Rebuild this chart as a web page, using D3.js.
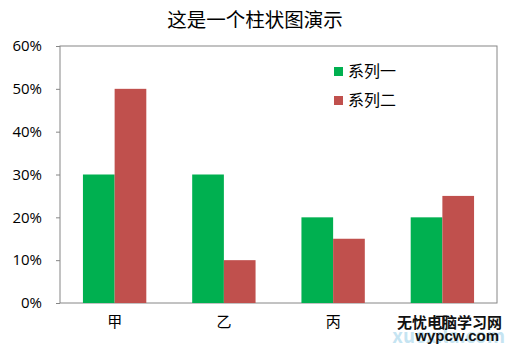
<!DOCTYPE html>
<html>
<head>
<meta charset="utf-8">
<script src="https://cdn.jsdelivr.net/npm/d3@7"></script>
<style>
  body { margin: 0; background: #fff; }
  text { font-family: "Noto Sans CJK SC", "Noto Sans", sans-serif; }
</style>
</head>
<body>
<div id="chart"></div>
<script>
var categories = ["甲", "乙", "丙", "丁"];
var seriesNames = ["系列一", "系列二"];
var series1 = [0.30, 0.30, 0.20, 0.20];
var series2 = [0.50, 0.10, 0.15, 0.25];
var yTicks = [0, 0.1, 0.2, 0.3, 0.4, 0.5, 0.6];
var colors = ["#00B050", "#C0504D"];

function init() {
    var w = 510;
    var h = 348;
    var left = 60, right = 497, top = 46, bottom = 303;

    var svg = d3.select("#chart")
                .append("svg")
                .attr("width", w)
                .attr("height", h);

    var x = d3.scaleBand()
              .domain(categories)
              .range([left, right])
              .paddingInner(0.42)
              .paddingOuter(0.21);

    var x1 = d3.scaleBand()
               .domain(seriesNames)
               .range([0, x.bandwidth()]);

    var y = d3.scaleLinear()
              .domain([0, 0.6])
              .range([bottom, top]);

    // title
    svg.append("text")
        .attr("x", 255)
        .attr("y", 27)
        .attr("text-anchor", "middle")
        .style("font-size", "19.5px")
        .style("fill", "#000")
        .text("这是一个柱状图演示");

    // plot border
    svg.append("rect")
        .attr("x", left)
        .attr("y", top)
        .attr("width", right - left)
        .attr("height", bottom - top)
        .style("fill", "none")
        .style("stroke", "#868686")
        .style("stroke-width", 1);

    // y axis
    var yAxis = d3.axisLeft(y)
                  .tickValues(yTicks)
                  .tickFormat(d3.format(".0%"))
                  .tickSize(4)
                  .tickPadding(14);
    var gy = svg.append("g")
        .attr("transform", "translate(" + left + ",0)")
        .call(yAxis);
    gy.select(".domain").remove();
    gy.selectAll(".tick line").style("stroke", "#868686");
    gy.selectAll("text")
        .style("font-size", "15px")
        .style("fill", "#000")
        .style("font-family", "'Open Sans', sans-serif");

    // bars
    var data = categories.map(function(c, i) {
        return { cat: c, values: [series1[i], series2[i]] };
    });

    var groups = svg.selectAll(".grp")
        .data(data)
        .enter()
        .append("g")
        .attr("transform", function(d) { return "translate(" + x(d.cat) + ",0)"; });

    groups.selectAll("rect")
        .data(function(d) { return d.values.map(function(v, j) { return { name: seriesNames[j], v: v, j: j }; }); })
        .enter()
        .append("rect")
        .attr("x", function(d) { return x1(d.name); })
        .attr("y", function(d) { return y(d.v); })
        .attr("width", x1.bandwidth())
        .attr("height", function(d) { return y(0) - y(d.v); })
        .style("fill", function(d) { return colors[d.j]; });

    // x labels
    var xAxis = d3.axisBottom(x).tickSize(0).tickPadding(13);
    var gx = svg.append("g")
        .attr("transform", "translate(0," + bottom + ")")
        .call(xAxis);
    gx.select(".domain").remove();
    gx.selectAll("text")
        .style("font-size", "15px")
        .style("fill", "#000");

    // legend
    var legend = svg.selectAll(".legend")
        .data(seriesNames)
        .enter()
        .append("g")
        .attr("transform", function(d, i) { return "translate(334," + (67 + i * 29) + ")"; });
    legend.append("rect")
        .attr("width", 9)
        .attr("height", 9)
        .style("fill", function(d, i) { return colors[i]; });
    legend.append("text")
        .attr("x", 14)
        .attr("y", 10)
        .style("font-size", "16px")
        .style("fill", "#000")
        .text(function(d) { return d; });

    // watermark
    svg.append("text")
        .attr("x", 505)
        .attr("y", 343)
        .attr("text-anchor", "end")
        .style("font-size", "19px")
        .style("font-weight", "bold")
        .style("fill", "#9fd3ea")
        .style("opacity", 0.6)
        .text("xuexila.com");
    svg.append("text")
        .attr("x", 502)
        .attr("y", 328)
        .attr("text-anchor", "end")
        .style("font-size", "15px")
        .style("font-weight", "bold")
        .style("fill", "#111")
        .text("无忧电脑学习网");
    svg.append("text")
        .attr("x", 499)
        .attr("y", 341)
        .attr("text-anchor", "end")
        .style("font-size", "15px")
        .style("font-weight", "bold")
        .style("fill", "#111")
        .style("font-family", "'Liberation Sans', sans-serif")
        .text("wypcw.com");
}

window.onload = init;
</script>
</body>
</html>
